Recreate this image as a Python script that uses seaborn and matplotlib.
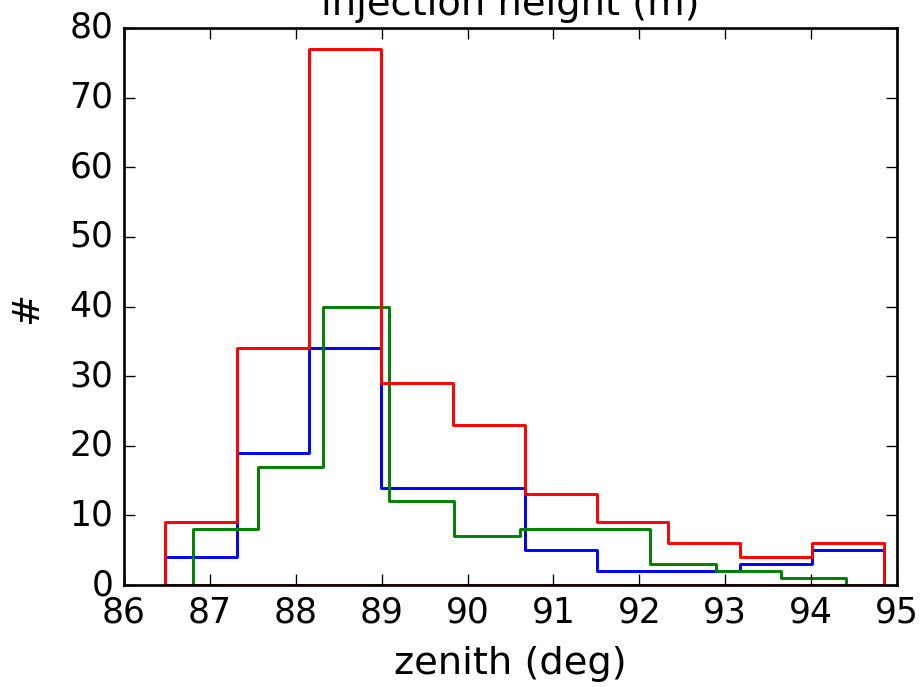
import numpy as np
import pandas as pd
import matplotlib
matplotlib.use("Agg")
import matplotlib.pyplot as plt
import seaborn as sns

# Per-bin counts of zenith angle (deg) for three samples, 10 equal-width bins each
n_bins = 10
blue_range = (86.48, 94.85)
blue_counts = [4, 19, 34, 14, 14, 5, 2, 2, 3, 5]
green_range = (86.80, 94.41)
green_counts = [8, 17, 40, 12, 7, 8, 8, 3, 2, 1]
red_range = (86.48, 94.85)
red_counts = [9, 34, 77, 29, 23, 13, 9, 6, 4, 6]

x_ticks = [86, 87, 88, 89, 90, 91, 92, 93, 94, 95]
y_ticks = [0, 10, 20, 30, 40, 50, 60, 70, 80]

plt.style.use("classic")
plt.rcParams["font.family"] = ["DejaVu Sans"]
plt.rcParams["figure.facecolor"] = "white"
plt.rcParams["savefig.facecolor"] = "white"
plt.rcParams["xtick.labelsize"] = 13
plt.rcParams["ytick.labelsize"] = 13
plt.rcParams["axes.labelsize"] = 14.4

DPI = 192
fig = plt.figure(figsize=(921 / DPI, 687 / DPI), dpi=DPI)
ax = fig.add_axes([124 / 921, 1 - 585 / 687, (897 - 124) / 921, (585 - 28) / 687])


def bin_table(rng, counts):
    edges = np.linspace(rng[0], rng[1], n_bins + 1)
    centers = 0.5 * (edges[:-1] + edges[1:])
    return pd.DataFrame({"zenith": centers, "n": counts})


for rng, counts, color in [
    (blue_range, blue_counts, "b"),
    (green_range, green_counts, "g"),
    (red_range, red_counts, "r"),
]:
    sns.histplot(
        data=bin_table(rng, counts), x="zenith", weights="n",
        bins=n_bins, binrange=rng, element="step", fill=True,
        color=color, facecolor="none", edgecolor=color, linewidth=1.1,
        ax=ax,
    )

ax.set_xlim(86, 95)
ax.set_ylim(0, 80)
ax.set_xticks(x_ticks)
ax.set_yticks(y_ticks)
ax.set_xlabel("zenith (deg)", labelpad=6)
ax.set_ylabel("#", labelpad=9)
ax.set_title("injection height (m)", fontsize=14.4)

fig.savefig("out.png", dpi=DPI)
